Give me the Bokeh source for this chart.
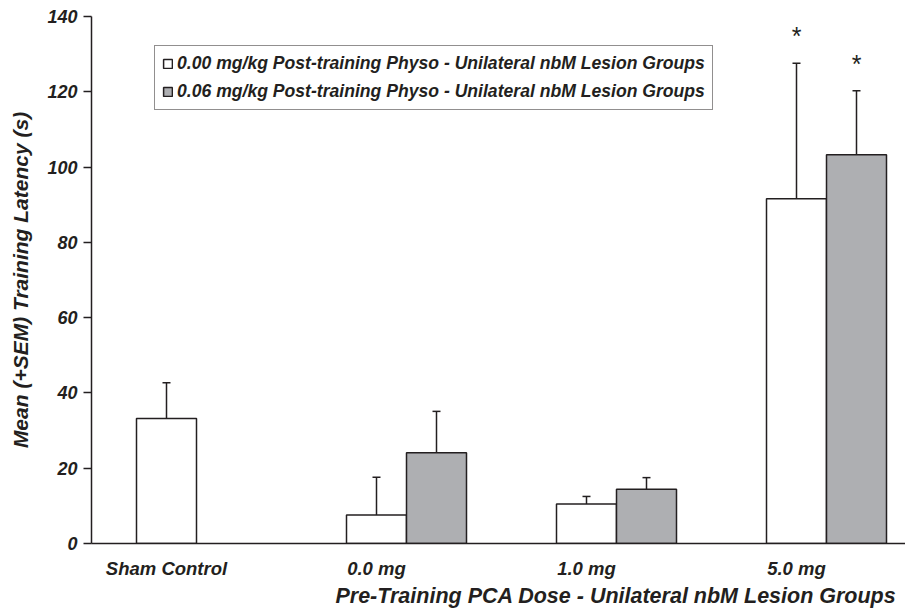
import numpy as np
from bokeh.plotting import figure
from bokeh.models import (ColumnDataSource, Whisker, TeeHead, FixedTicker, Range1d,
                          Title, Legend, LegendItem)
from bokeh.embed import file_html
from bokeh.resources import INLINE

# ---------------- data ----------------
groups = ["Sham Control", "0.0 mg", "1.0 mg", "5.0 mg"]
physo_000_mean = [33.2, 7.6, 10.5, 91.6]
physo_000_sem = [9.5, 10.0, 2.0, 36.0]
physo_006_mean = [np.nan, 24.1, 14.4, 103.3]
physo_006_sem = [np.nan, 11.0, 3.1, 17.0]
physo_000_sig = ["", "", "", "*"]
physo_006_sig = ["", "", "", "*"]
series_labels = ["0.00 mg/kg Post-training Physo - Unilateral nbM Lesion Groups",
                 "0.06 mg/kg Post-training Physo - Unilateral nbM Lesion Groups"]
y_ticks = [0, 20, 40, 60, 80, 100, 120, 140]
x_title = "Pre-Training PCA Dose - Unilateral nbM Lesion Groups"
y_title = "Mean (+SEM) Training Latency (s)"

# ---------------- layout ----------------
FONT = "Liberation Sans"
INK = "#231f20"
GRAY = "#aeafb2"
GROUP_STEP = 7.0   # in half-bar units
BAR_W = 2.0
W, H = 905, 608
LEFT, TOP, BOTTOM = 91, 16, 65
PX_PER_UNIT = 30.0

def make_source(means, sems, sigs, offset):
    rows = [(i, m, s, g) for i, (m, s, g) in enumerate(zip(means, sems, sigs)) if not np.isnan(m)]
    x = [i * GROUP_STEP + offset for i, _, _, _ in rows]
    m = [r[1] for r in rows]
    s = [r[2] for r in rows]
    g = [r[3] for r in rows]
    return ColumnDataSource(dict(x=x, top=m, upper=[a + b for a, b in zip(m, s)], sig=g))

src0 = make_source(physo_000_mean, physo_000_sem, physo_000_sig, 0.0)
src1 = make_source(physo_006_mean, physo_006_sem, physo_006_sig, BAR_W)

p = figure(width=W, height=H, output_backend="svg", toolbar_location=None,
           x_range=Range1d(-2.5, -2.5 + (W - LEFT) / PX_PER_UNIT), y_range=Range1d(0, 140),
           min_border_left=LEFT, min_border_top=TOP, min_border_right=0,
           min_border_bottom=BOTTOM)
p.outline_line_color = None
p.grid.visible = False
p.background_fill_color = "white"

r0 = p.vbar(x="x", top="top", width=BAR_W, source=src0, fill_color="white",
            line_color=INK, line_width=1.5)
r1 = p.vbar(x="x", top="top", width=BAR_W, source=src1, fill_color=GRAY,
            line_color=INK, line_width=1.5)

for src in (src0, src1):
    w = Whisker(base="x", lower="top", upper="upper", source=src, dimension="height",
                lower_head=None, upper_head=TeeHead(size=8, line_color=INK, line_width=1.5),
                line_color=INK, line_width=1.5)
    p.add_layout(w)
    p.text(x="x", y="upper", text="sig", source=src, text_align="center",
           text_baseline="middle", y_offset=-27, text_font_size="25px",
           text_color=INK, text_font={"value": FONT})

# axes
ya = p.yaxis[0]
ya.ticker = FixedTicker(ticks=y_ticks)
ya.minor_tick_line_color = None
ya.major_tick_in = 0
ya.major_tick_out = 8
ya.major_label_standoff = 6
ya.axis_line_width = 1.5
ya.axis_line_color = INK
ya.major_tick_line_color = INK
ya.major_tick_line_width = 1.5
ya.major_label_text_font = FONT
ya.major_label_text_font_style = "bold italic"
ya.major_label_text_font_size = "18px"
ya.major_label_text_color = INK
ya.axis_label = y_title
ya.axis_label_text_font = FONT
ya.axis_label_text_font_style = "bold italic"
ya.axis_label_text_font_size = "21px"
ya.axis_label_text_color = INK
ya.axis_label_standoff = 12

xa = p.xaxis[0]
xa.ticker = FixedTicker(ticks=[i * GROUP_STEP for i in range(len(groups))])
xa.major_label_overrides = {i * GROUP_STEP: g for i, g in enumerate(groups)}
xa.minor_tick_line_color = None
xa.major_tick_in = 0
xa.major_tick_out = 0
xa.major_label_standoff = 14
xa.axis_line_width = 1.5
xa.axis_line_color = INK
xa.major_label_text_font = FONT
xa.major_label_text_font_style = "bold italic"
xa.major_label_text_font_size = "18.5px"
xa.major_label_text_color = INK

p.add_layout(Title(text=x_title, align="right", offset=9, text_font=FONT,
                   text_font_style="bold italic", text_font_size="21.5px",
                   text_color=INK, standoff=0), "below")

legend = Legend(items=[LegendItem(label=series_labels[0], renderers=[r0]),
                       LegendItem(label=series_labels[1], renderers=[r1])],
                location=(63, 433), padding=7, spacing=7, margin=0,
                glyph_width=11, glyph_height=11, label_standoff=4, label_height=20,
                label_text_font=FONT, label_text_font_style="bold italic",
                label_text_font_size="17.6px", label_text_color=INK,
                border_line_color=INK, border_line_width=1.5,
                background_fill_alpha=1.0)
p.add_layout(legend)

open("out.html", "w").write(file_html(p, INLINE))
